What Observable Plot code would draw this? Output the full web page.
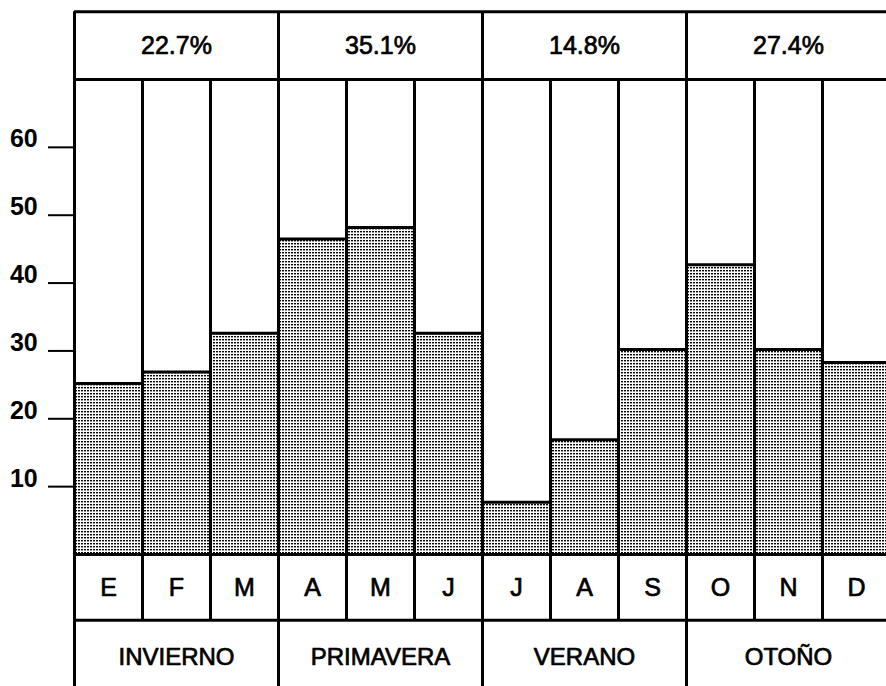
<!DOCTYPE html>
<html>
<head>
<meta charset="utf-8">
<script src="https://cdn.jsdelivr.net/npm/d3@7"></script>
<script src="https://cdn.jsdelivr.net/npm/@observablehq/plot@0.6"></script>
<style>
  html, body { margin: 0; padding: 0; background: #fff; }
  #chart svg { display: block; }
  #chart svg text.pct { letter-spacing: 1px; }
</style>
</head>
<body>
<div id="chart"></div>
<script>
// ---- data ----
const months = ["E", "F", "M", "A", "M", "J", "J", "A", "S", "O", "N", "D"];
const values = [25.2, 26.9, 32.6, 46.5, 48.2, 32.6, 7.7, 16.9, 30.2, 42.7, 30.2, 28.3];
const seasons = ["INVIERNO", "PRIMAVERA", "VERANO", "OTOÑO"];
const shares = ["22.7%", "35.1%", "14.8%", "27.4%"];
const yTicks = [10, 20, 30, 40, 50, 60];

const monthData = months.map((m, i) => ({ i, m, v: values[i] }));
const seasonData = seasons.map((s, i) => ({ i, s, p: shares[i] }));

const FONT = "'Liberation Sans', Arial, Helvetica, sans-serif";
const LW = 3;
const medium = { fill: "#000", stroke: "#000", strokeWidth: 0.7 };

const svg = Plot.plot({
  width: 886,
  height: 686,
  marginTop: 0, marginRight: 0, marginBottom: 0, marginLeft: 0,
  style: { fontFamily: FONT, background: "#fff", color: "#000" },
  x: { type: "linear", domain: [0, 12], range: [74, 890], axis: null },
  y: { type: "linear", domain: [0, 70], range: [554, 79], axis: null },
  marks: [
    // stippled bars
    Plot.rect(monthData, { x1: "i", x2: d => d.i + 1, y1: 0, y2: "v", fill: "url(#dots)" }),
    // bar tops
    Plot.ruleY(monthData, { y: "v", x1: "i", x2: d => d.i + 1, stroke: "#000", strokeWidth: LW }),
    // horizontal frame lines
    Plot.ruleY([80, 70, 0, -9.7], { x1: 0, x2: 12, stroke: "#000", strokeWidth: LW }),
    // month separators
    Plot.ruleX([1, 2, 4, 5, 7, 8, 10, 11], { y1: -9.7, y2: 70, stroke: "#000", strokeWidth: LW }),
    // season separators
    Plot.ruleX([0, 3, 6, 9, 12], { y1: -30, y2: 80, stroke: "#000", strokeWidth: LW }),
    // y ticks
    Plot.ruleY(yTicks, { x1: -0.382, x2: 0, stroke: "#000", strokeWidth: 2 }),
    Plot.text(yTicks, { x: -0.54, y: d => d, text: d => String(d), textAnchor: "end", dy: -8,
      fontSize: 25, fontWeight: "bold", fill: "#000" }),
    // seasonal shares
    Plot.text(seasonData, { x: d => d.i * 3 + 1.5, y: 75, text: "p", fontSize: 25, className: "pct", ...medium }),
    // month letters
    Plot.text(monthData, { x: d => d.i + 0.5, y: -5.0, text: "m", fontSize: 25, ...medium }),
    // season names
    Plot.text(seasonData, { x: d => d.i * 3 + 1.5, y: -15.2, text: "s", fontSize: 24, ...medium })
  ]
});

// stipple pattern definition
const ns = "http://www.w3.org/2000/svg";
const defs = document.createElementNS(ns, "defs");
const pat = document.createElementNS(ns, "pattern");
pat.setAttribute("id", "dots");
pat.setAttribute("patternUnits", "userSpaceOnUse");
pat.setAttribute("width", "3");
pat.setAttribute("height", "3");
const bg = document.createElementNS(ns, "rect");
bg.setAttribute("width", "3"); bg.setAttribute("height", "3"); bg.setAttribute("fill", "#fff");
const dot = document.createElementNS(ns, "rect");
dot.setAttribute("width", "2"); dot.setAttribute("height", "1.4"); dot.setAttribute("fill", "#000");
pat.appendChild(bg); pat.appendChild(dot);
defs.appendChild(pat);
svg.insertBefore(defs, svg.firstChild);

document.getElementById("chart").appendChild(svg);
</script>
</body>
</html>
